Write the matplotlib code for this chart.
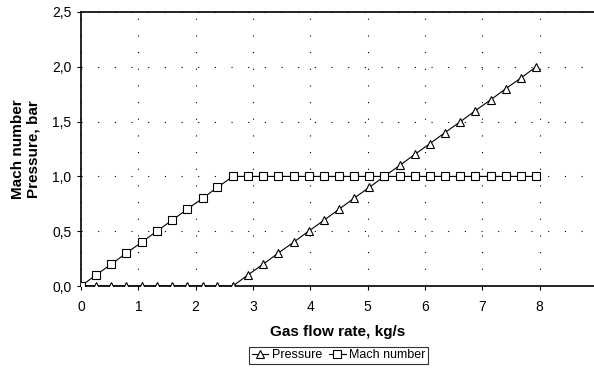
import matplotlib
matplotlib.use("Agg")
import matplotlib.pyplot as plt
from matplotlib.ticker import FuncFormatter

plt.rcParams['font.family'] = ['Liberation Sans', 'DejaVu Sans']

# gas flow rate, kg/s
flow = [0, 0.26, 0.53, 0.79, 1.06, 1.32, 1.59, 1.85, 2.12, 2.38, 2.65,
        2.91, 3.18, 3.44, 3.71, 3.97, 4.24, 4.50, 4.76, 5.03, 5.29,
        5.56, 5.82, 6.09, 6.35, 6.62, 6.88, 7.15, 7.41, 7.68, 7.94]
pressure = [0, 0, 0, 0, 0, 0, 0, 0, 0, 0, 0,
            0.1, 0.2, 0.3, 0.4, 0.5, 0.6, 0.7, 0.8, 0.9, 1.0,
            1.1, 1.2, 1.3, 1.4, 1.5, 1.6, 1.7, 1.8, 1.9, 2.0]
mach = [0, 0.1, 0.2, 0.3, 0.4, 0.5, 0.6, 0.7, 0.8, 0.9, 1.0,
        1.0, 1.0, 1.0, 1.0, 1.0, 1.0, 1.0, 1.0, 1.0, 1.0,
        1.0, 1.0, 1.0, 1.0, 1.0, 1.0, 1.0, 1.0, 1.0, 1.0]
xticks = [0, 1, 2, 3, 4, 5, 6, 7, 8]
yticks = [0, 0.5, 1.0, 1.5, 2.0, 2.5]

fig = plt.figure(figsize=(5.94, 3.68), dpi=100)
ax = fig.add_axes([0.1364, 0.2228, 0.8636, 0.7446])

ax.plot(flow, pressure, color='k', lw=0.8, marker='^', ms=5.5,
        mfc='white', mec='k', mew=0.8, label='Pressure', zorder=3)
ax.plot(flow, mach, color='k', lw=0.8, marker='s', ms=5.2,
        mfc='white', mec='k', mew=0.8, label='Mach number', zorder=3)

ax.set_xlim(0, 8.95)
ax.set_ylim(0, 2.5)
ax.set_xticks(xticks)
ax.set_yticks(yticks)
ax.yaxis.set_major_formatter(FuncFormatter(lambda v, p: f"{v:.1f}".replace('.', ',')))
ax.tick_params(labelsize=10, length=3, width=0.8, direction='out', pad=4)
ax.tick_params(axis='x', pad=7)

ax.grid(True, color='k', linestyle=(0, (1, 14)), linewidth=0.8)
for s in ['left', 'bottom', 'top']:
    ax.spines[s].set_linewidth(1.2)
ax.spines['right'].set_visible(False)

ax.set_xlabel("Gas flow rate, kg/s", fontsize=11, fontweight='bold', labelpad=8)
ax.set_ylabel("Mach number\nPressure, bar", fontsize=11, fontweight='bold', labelpad=8)

leg = ax.legend(loc='center', bbox_to_anchor=(0.57, 0.035), bbox_transform=fig.transFigure,
                ncol=2, fontsize=9, frameon=True, fancybox=False, edgecolor='k',
                handlelength=1.3, handletextpad=0.3, columnspacing=0.6,
                borderpad=0.2, borderaxespad=0)
leg.get_frame().set_linewidth(0.8)

fig.savefig("out.png", dpi=100)
